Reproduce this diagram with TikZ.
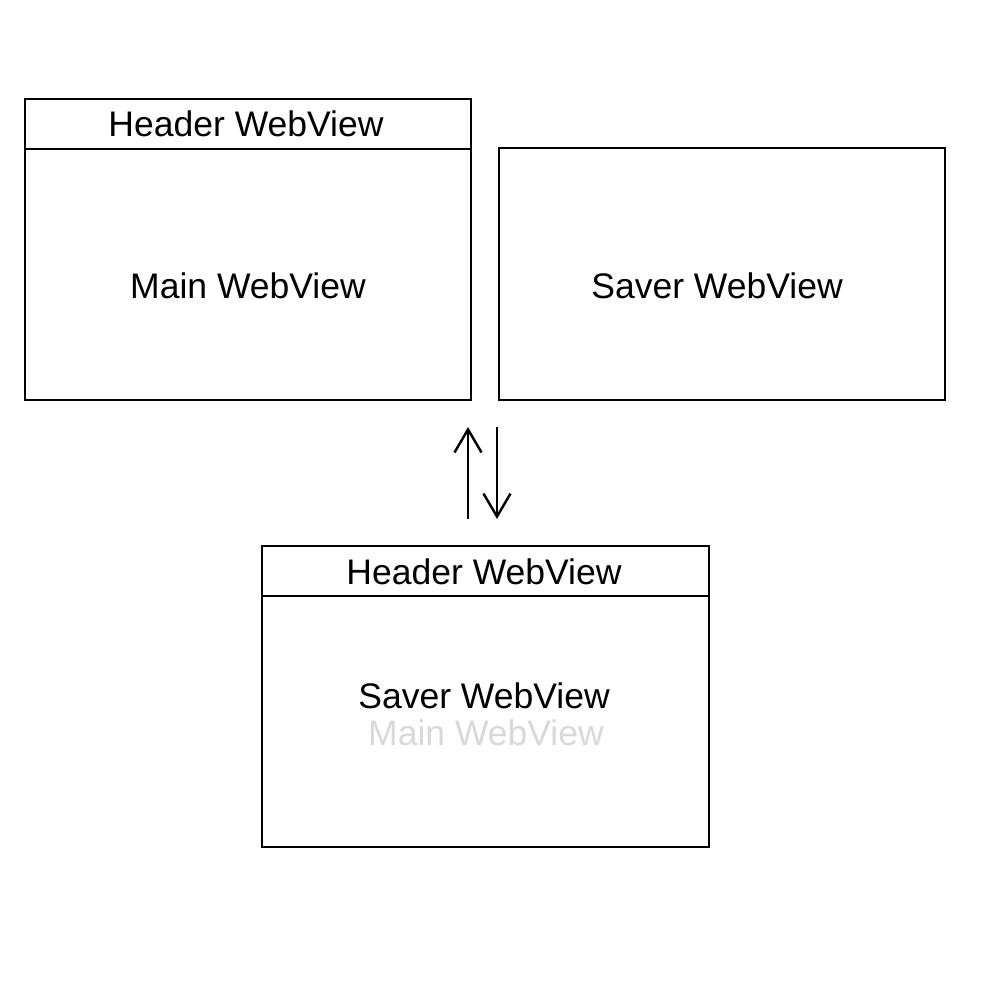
\documentclass[tikz,border=0pt]{standalone}
\usepackage{fontspec}
\setmainfont{Liberation Sans}
\usetikzlibrary{arrows.meta}
\definecolor{fadegrey}{RGB}{217,217,217}
\begin{document}
\begin{tikzpicture}[x=0.01cm,y=-0.01cm,
  box/.style={draw=black,line width=0.65pt,inner sep=0pt,minimum width=4.46cm},
  lbl/.style={font=\fontsize{10.1}{12}\selectfont,inner sep=0pt,anchor=base},
  conn/.style={line width=0.7pt,-{Straight Barb[length=2.3mm,width=2.7mm,line width=0.7pt]}}]
\useasboundingbox (0,0) rectangle (1000,1000);
\fill[white] (0,0) rectangle (1000,1000);
% top-left
\node[box,minimum height=0.50cm] (h1) at (248,124) {};
\node[box,minimum height=2.51cm] (m1) at (248,274.5) {};
\node[lbl] (h1t) at (246,136) {Header WebView};
\node[lbl] (m1t) at (248,298) {Main WebView};
% top-right
\node[box,minimum height=2.52cm] (s1) at (722,274) {};
\node[lbl] (s1t) at (717,298) {Saver WebView};
% bottom
\node[box,minimum width=4.47cm,minimum height=0.50cm] (h3) at (485.5,571) {};
\node[box,minimum width=4.47cm,minimum height=2.51cm] (m3) at (485.5,721.5) {};
\node[lbl] (h3t) at (484,584) {Header WebView};
\node[lbl] (s3t) at (484,708) {Saver WebView};
\node[lbl,text=fadegrey] (g3t) at (486,745) {Main WebView};
% arrows
\coordinate (upA) at (468,519);
\coordinate (upB) at (468,427);
\coordinate (dnA) at (497,427);
\coordinate (dnB) at (497,519);
\draw[conn] (upA) -- (upB);
\draw[conn] (dnA) -- (dnB);
\end{tikzpicture}
\end{document}
